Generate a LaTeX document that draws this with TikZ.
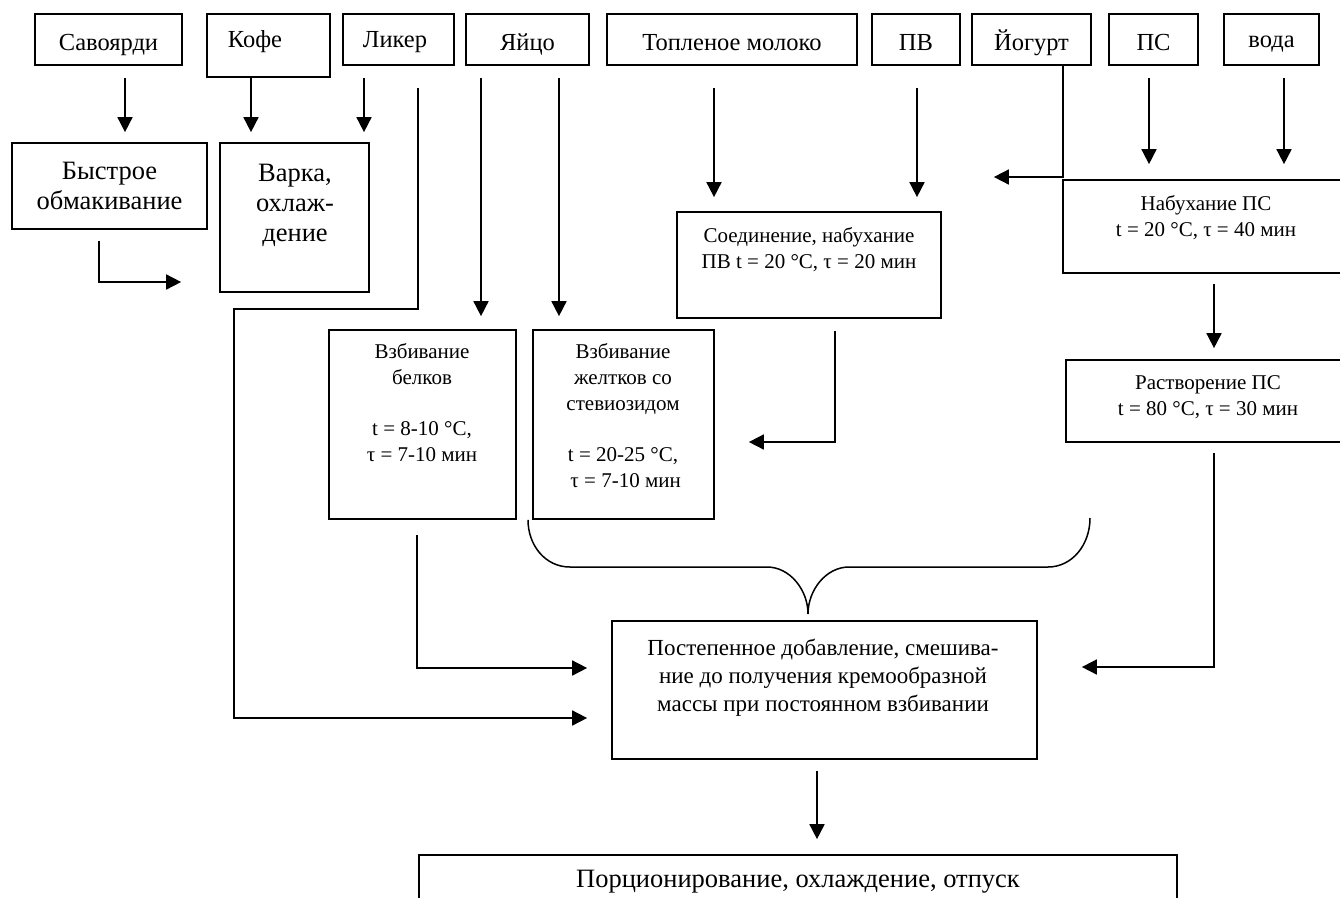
\documentclass[tikz,border=0pt]{standalone}
\usepackage{fontspec}
\setmainfont{Liberation Serif}
\usetikzlibrary{arrows.meta}

\begin{document}
\begin{tikzpicture}[x=1pt,y=-1pt,line width=1.7pt,
  box/.style={draw,inner sep=0pt},
  top/.style={font=\fontsize{24.5}{30}\selectfont,text height=25pt,text depth=4pt},
  big/.style={font=\fontsize{26.5}{30}\selectfont,align=center},
  mid/.style={font=\fontsize{23}{28}\selectfont,align=center},
  small/.style={font=\fontsize{21}{26}\selectfont,align=center},
  arr/.style={-{Triangle[length=15pt,width=15pt]}},
  gap/.style 2 args={shorten <=#1pt,shorten >=#2pt}]

\useasboundingbox (0,0) rectangle (1340,897);
\clip (0,0) rectangle (1340,897);

% ---- сырьё ----
\node[box,top,minimum width=147pt,minimum height=51pt] (savo) at (108.5,39.5) {Савоярди};
\node[box,minimum width=123pt,minimum height=63pt] (kofe) at (268.5,45.5) {};
\node[top] (kofeT) at (255,36.5) {Кофе};
\node[box,minimum width=111pt,minimum height=51pt] (liker) at (398.5,39.5) {};
\node[top] (likerT) at (395,36.5) {Ликер};
\node[box,top,minimum width=123pt,minimum height=51pt] (egg) at (527.5,39.5) {Яйцо};
\node[box,top,minimum width=250pt,minimum height=51pt] (milk) at (732,39.5) {Топленое молоко};
\node[box,top,minimum width=88pt,minimum height=51pt] (pv) at (916,39.5) {ПВ};
\node[box,top,minimum width=119pt,minimum height=51pt] (yog) at (1031.5,39.5) {Йогурт};
\node[box,top,minimum width=89pt,minimum height=51pt] (ps) at (1153.5,39.5) {ПС};
\node[box,minimum width=95pt,minimum height=51pt] (voda) at (1271.5,39.5) {};
\node[top] (vodaT) at (1271.5,36.5) {вода};

% ---- операции ----
\node[box,big,minimum width=195pt,minimum height=86pt] (fast) at (109.5,186) {Быстрое\\обмакивание};
\node[box,minimum width=149pt,minimum height=149pt] (varka) at (294.5,217.5) {};
\node[big] (varkaT) at (295,205) {Варка,\\охлаж-\\дение};
\node[box,minimum width=264pt,minimum height=106pt] (soed) at (809,265) {};
\node[small] (soedT) at (809,250) {Соединение, набухание\\ПВ t = 20 °C, τ = 20 мин};
\node[box,minimum width=297pt,minimum height=93pt] (nabuh) at (1211.5,226.5) {};
\node[small] (nabuhT) at (1206,217.5) {Набухание ПС\\t = 20 °C, τ = 40 мин};
\node[box,minimum width=294pt,minimum height=82pt] (rastv) at (1213,401) {};
\node[small] (rastvT) at (1208,397) {Растворение ПС\\t = 80 °C, τ = 30 мин};
\node[box,minimum width=187pt,minimum height=189pt] (whites) at (422.5,424.5) {};
\node[small] (whitesT) at (422,403) {Взбивание\\белков\\[25pt]t = 8-10 °C,\\τ = 7-10 мин};
\node[box,minimum width=181pt,minimum height=189pt] (yolks) at (623.5,424.5) {};
\node[small] (yolksT) at (623,415.5) {Взбивание\\желтков со\\стевиозидом\\[25pt]t = 20-25 °C,\\\ τ = 7-10 мин};
\node[box,minimum width=425pt,minimum height=138pt] (postep) at (824.5,690) {};
\node[mid] (postepT) at (823,678) {Постепенное добавление, смешива-\\ние до получения кремообразной\\массы при постоянном взбивании};
\node[box,minimum width=758pt,minimum height=120pt] (final) at (798,915) {};
\node[big] (finalT) at (798,882) {Порционирование, охлаждение, отпуск};

% ---- стрелки ----
\draw[arr,gap={12}{10}] (savo.south -| 125,0) -- (fast.north -| 125,0);
\draw[arr,gap={0}{10}] (kofe.south -| 251,0) -- (varka.north -| 251,0);
\draw[arr,gap={12}{10}] (liker.south -| 364,0) -- (varka.north -| 364,0);
\draw[arr,gap={11}{38}] (fast.south -| 99,0) |- (varka.west |- 0,282);
\draw[arr,gap={22}{24}] (liker.south -| 418,0) -- (418,309) -| (234,718) -- (postep.west |- 0,718);
\draw[arr,gap={12}{13}] (egg.south -| 481,0) -- (whites.north -| 481,0);
\draw[arr,gap={12}{13}] (egg.south -| 559,0) -- (yolks.north -| 559,0);
\draw[arr,gap={22}{14}] (milk.south -| 714,0) -- (soed.north -| 714,0);
\draw[arr,gap={22}{14}] (pv.south -| 917,0) -- (soed.north -| 917,0);
\draw[arr,gap={12}{34}] (soed.south -| 835,0) |- (yolks.east |- 0,442);
\draw[arr,gap={0}{52}] (yog.south -| 1063,0) |- (soed.east |- 0,177);
\draw[arr,gap={12}{15}] (ps.south -| 1149,0) -- (nabuh.north -| 1149,0);
\draw[arr,gap={12}{15}] (voda.south -| 1284,0) -- (nabuh.north -| 1284,0);
\draw[arr,gap={10}{11}] (nabuh.south -| 1214,0) -- (rastv.north -| 1214,0);
\draw[arr,gap={10}{44}] (rastv.south -| 1214,0) |- (postep.east |- 0,667);
\draw[arr,gap={15}{24}] (whites.south -| 417,0) |- (postep.west |- 0,668);
\draw[arr,gap={11}{15}] (postep.south -| 817,0) -- (final.north -| 817,0);

% фигурная скобка
\draw[line width=1.5pt] (whites.south -| 528,0) .. controls (528,545) and (545,567) .. (570,567) -- (767,567)
  .. controls (790,567) and (808,590) .. (808,614)
  .. controls (808,590) and (826,567) .. (849,567) -- (1048,567)
  .. controls (1072,567) and (1090,545) .. (1090,518);

\end{tikzpicture}
\end{document}
